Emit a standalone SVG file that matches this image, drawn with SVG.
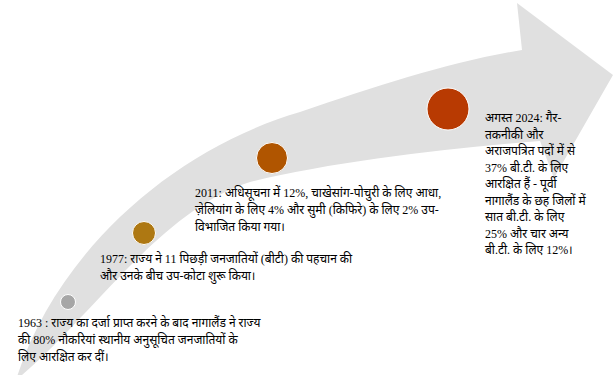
<svg xmlns="http://www.w3.org/2000/svg" width="614" height="375" viewBox="0 0 614 375">
<style>
.t{font-family:"Liberation Serif","Noto Serif","Noto Sans",serif;font-size:12px;fill:#000}
.dot{stroke:#fff;stroke-width:1}
</style>
<rect width="614" height="375" fill="#fff"/>
<g id="arrow">
<path d="M16,380 C55,255 170,150 300,112 C380,85 450,62 522,50 L517,3 L613,75 L554,178 L540,141 C450,148 330,162 250,182 C160,210 90,320 16,380 Z" fill="#e0e0e0"/>
</g>
<g id="n1963">
<circle class="dot" cx="68" cy="302" r="7.5" fill="#a6a6a6"/>
<text class="t"><tspan x="18" y="327">1963 : राज्य का दर्जा प्राप्त करने के बाद नागालैंड ने राज्य</tspan><tspan x="18" y="344">की 80% नौकरियां स्थानीय अनुसूचित जनजातियों के</tspan><tspan x="18" y="361">लिए आरक्षित कर दीं।</tspan></text>
</g>
<g id="n1977">
<circle class="dot" cx="144" cy="233" r="11.5" fill="#ae7812"/>
<text class="t"><tspan x="100" y="263">1977: राज्य ने 11 पिछड़ी जनजातियों (बीटी) की पहचान की</tspan><tspan x="100" y="280">और उनके बीच उप-कोटा शुरू किया।</tspan></text>
</g>
<g id="n2011">
<circle class="dot" cx="272" cy="158" r="15.5" fill="#b05500"/>
<text class="t"><tspan x="195" y="197">2011: अधिसूचना में 12%, चाखेसांग-पोचुरी के लिए आधा,</tspan><tspan x="195" y="214">ज़ेलियांग के लिए 4% और सुमी (किफिरे) के लिए 2% उप-</tspan><tspan x="195" y="231">विभाजित किया गया।</tspan></text>
</g>
<g id="n2024">
<circle class="dot" cx="448" cy="109" r="21" fill="#b83a02"/>
<text class="t"><tspan x="485" y="122">अगस्त 2024: गैर-</tspan><tspan x="485" y="139">तकनीकी और</tspan><tspan x="485" y="155">अराजपत्रित पदों में से</tspan><tspan x="485" y="172">37% बी.टी. के लिए</tspan><tspan x="485" y="188">आरक्षित हैं - पूर्वी</tspan><tspan x="485" y="205">नागालैंड के छह जिलों में</tspan><tspan x="485" y="221">सात बी.टी. के लिए</tspan><tspan x="485" y="238">25% और चार अन्य</tspan><tspan x="485" y="254">बी.टी. के लिए 12%।</tspan></text>
</g>
<g id="connectors"></g>
</svg>
